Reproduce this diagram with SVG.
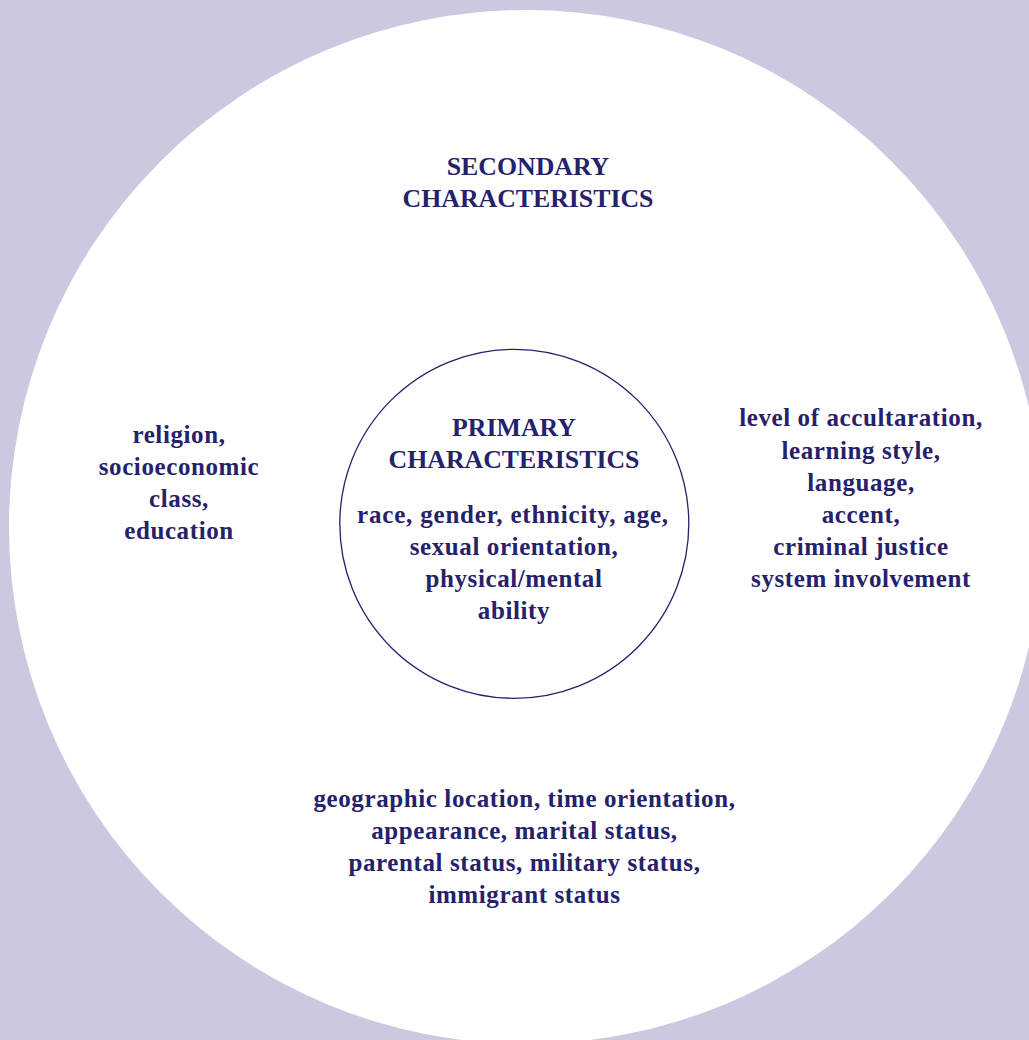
<svg xmlns="http://www.w3.org/2000/svg" width="1029" height="1040" viewBox="0 0 1029 1040">
<style>
text{font-family:'Liberation Serif','DejaVu Serif',serif;font-weight:700;fill:#25216b;text-anchor:middle}
.t{font-size:25.8px}
.b{font-size:25px;letter-spacing:0.6px}
</style>
<rect x="0" y="0" width="1029" height="1040" fill="#cbc9e0"/>
<g id="secondary">
<circle cx="526" cy="527" r="517" fill="#ffffff"/>
<text class="t" x="528" y="175">SECONDARY</text>
<text class="t" x="528" y="207">CHARACTERISTICS</text>
</g>
<g id="primary">
<circle cx="514.3" cy="523.8" r="174.5" fill="#ffffff" stroke="#25216b" stroke-width="1.3"/>
<text class="t" x="514" y="436">PRIMARY</text>
<text class="t" x="514" y="468">CHARACTERISTICS</text>
<text class="b" x="513" y="523" style="letter-spacing:0.8px">race, gender, ethnicity, age,</text>
<text class="b" x="514" y="555">sexual orientation,</text>
<text class="b" x="514" y="587">physical/mental</text>
<text class="b" x="514" y="619">ability</text>
</g>
<g id="left">
<text class="b" x="179" y="443">religion,</text>
<text class="b" x="179" y="475">socioeconomic</text>
<text class="b" x="179" y="507">class,</text>
<text class="b" x="179" y="539">education</text>
</g>
<g id="right">
<text class="b" x="861" y="426">level of accultaration,</text>
<text class="b" x="861" y="458.5">learning style,</text>
<text class="b" x="861" y="490.5">language,</text>
<text class="b" x="861" y="522.5">accent,</text>
<text class="b" x="861" y="555">criminal justice</text>
<text class="b" x="861" y="587">system involvement</text>
</g>
<g id="bottom">
<text class="b" x="524.5" y="806.5">geographic location, time orientation,</text>
<text class="b" x="524.5" y="838.5">appearance, marital status,</text>
<text class="b" x="524.5" y="870.5">parental status, military status,</text>
<text class="b" x="524.5" y="902.5">immigrant status</text>
</g>
<g id="connectors"></g>
</svg>
